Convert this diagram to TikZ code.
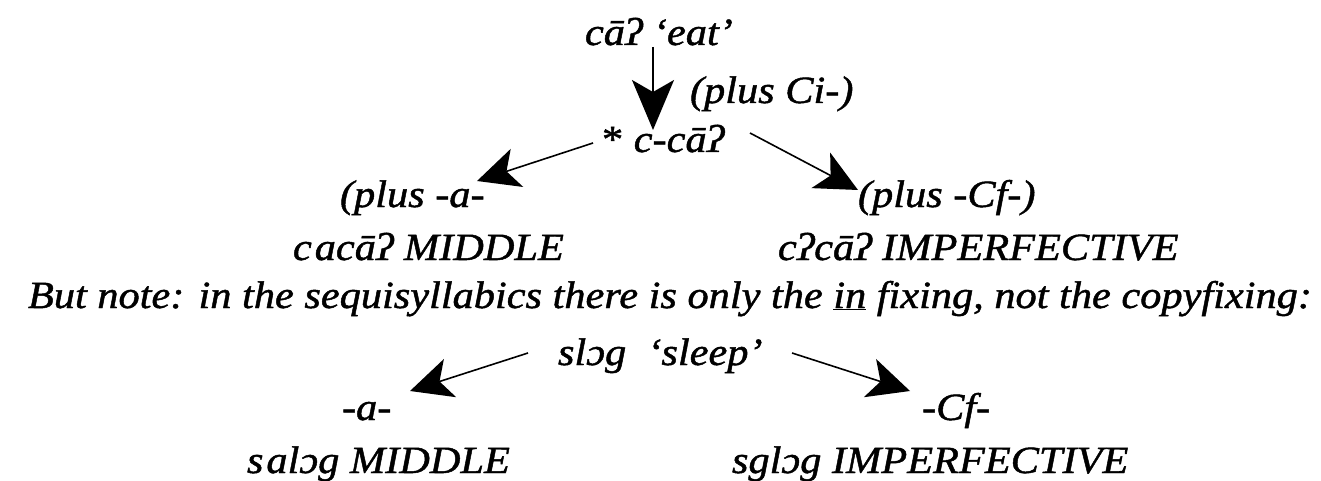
\documentclass[tikz,border=0pt]{standalone}
\usepackage{fontspec}
\setmainfont{Liberation Serif}[FakeStretch=1.1, FakeBold=1.2]
\usetikzlibrary{arrows.meta}
\tikzset{
  lbl/.style={anchor=base west, inner sep=0pt, outer sep=0pt, font=\fontsize{38.5}{44}\selectfont\itshape},
  conn/.style={line width=1.6pt, -{Stealth[length=42pt, width=40pt, inset=11pt]}},
}
\begin{document}
\begin{tikzpicture}[x=1pt,y=1pt]
\useasboundingbox (0,0) rectangle (1321,480);
\clip (0,0) rectangle (1321,480);
% texts (x = left edge, y = 480 - baseline)
\node[lbl] (eat) at (585,435) {cāʔ ‘eat’};
\node[lbl] (ci) at (690,377) {(plus Ci-)};
\node[lbl] (cca) at (602,328) {\textup{*} c-cāʔ};
\node[lbl] (pa) at (340,273) {(plus -a-};
\node[lbl] (pcf) at (858,273) {(plus -Cf-)};
\node[lbl] (mid1) at (293,220) {c\kern3pt acāʔ MIDDLE};
\node[lbl] (imp1) at (778,220) {cʔcāʔ IMPERFECTIVE};
\node[lbl] (note) at (28,172) {But note: in the sequisyllabics there is only the \underline{in} fixing, not the copyfixing:};
\node[lbl] (slog) at (558,115) {slɔg\ \ ‘sleep’};
\node[lbl] (a2) at (342,60) {-a-};
\node[lbl] (cf2) at (922,60) {-Cf-};
\node[lbl] (mid2) at (247,7) {s\kern3pt alɔg MIDDLE};
\node[lbl] (imp2) at (732,7) {sglɔg IMPERFECTIVE};
% connector ends
\coordinate (d0) at (653,433);
\coordinate (d1) at (653,350);
\coordinate (l0) at (593,337);
\coordinate (l1) at (477,299);
\coordinate (r0) at (750,347);
\coordinate (r1) at (858,290);
\coordinate (bl0) at (528,127);
\coordinate (bl1) at (410,89);
\coordinate (br0) at (792,127);
\coordinate (br1) at (910,89);
\draw[conn, -{Stealth[length=50pt, width=42pt, inset=12pt]}] (d0) -- (d1);
\draw[conn] (l0) -- (l1);
\draw[conn] (r0) -- (r1);
\draw[conn] (bl0) -- (bl1);
\draw[conn] (br0) -- (br1);
\end{tikzpicture}
\end{document}
